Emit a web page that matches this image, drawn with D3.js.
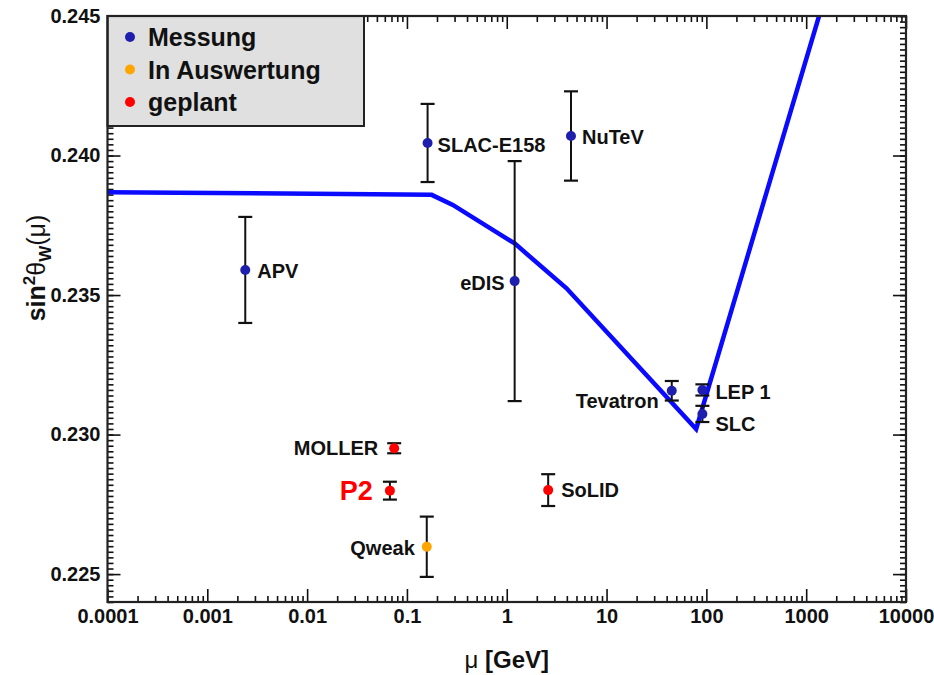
<!DOCTYPE html>
<html>
<head>
<meta charset="utf-8">
<script src="https://cdn.jsdelivr.net/npm/d3@7"></script>
<style>
  body { margin: 0; background: #fff; }
  text { font-family: "Liberation Sans", Arial, sans-serif; }
</style>
</head>
<body>
<svg id="chart" width="934" height="675"></svg>
<script>
// measurements / projections
var names  = ["APV", "SLAC-E158", "NuTeV", "eDIS", "Tevatron", "LEP 1", "SLC", "Qweak", "MOLLER", "P2", "SoLID"];
var mu     = [0.0024, 0.161, 4.4, 1.2, 45, 91.2, 91.2, 0.158, 0.0745, 0.0675, 2.6];
var sin2   = [0.2359, 0.24045, 0.2407, 0.2355, 0.23157, 0.2316, 0.23074, 0.22598, 0.22951, 0.22799, 0.22801];
var err    = [0.0019, 0.0014, 0.0016, 0.0043, 0.00035, 0.0002, 0.00029, 0.00108, 0.00018, 0.00032, 0.00057];
var stage  = ["Messung", "Messung", "Messung", "Messung", "Messung", "Messung", "Messung", "In Auswertung", "geplant", "geplant", "geplant"];

// running of sin^2 theta_W (SM curve)
var curveMu   = [0.0001, 0.0005, 0.177, 0.288, 1.2, 3.97, 79, 1345];
var curveSin2 = [0.23868, 0.23867, 0.23859, 0.23823, 0.23685, 0.23524, 0.2302, 0.245];

var legendLabels = ["Messung", "In Auswertung", "geplant"];
var xTickLabels = ["0.0001", "0.001", "0.01", "0.1", "1", "10", "100", "1000", "10000"];
var yTickLabels = ["0.225", "0.230", "0.235", "0.240", "0.245"];

var colors = {"Messung": "#1f1fae", "In Auswertung": "#ffa500", "geplant": "#ff0000"};

// label placement relative to the point
var labelPos = {
  "APV":       {dx: 12,  dy: 1,  anchor: "start"},
  "SLAC-E158": {dx: 10,  dy: 2,  anchor: "start"},
  "NuTeV":     {dx: 11,  dy: 1,  anchor: "start"},
  "eDIS":      {dx: -10, dy: 2,  anchor: "end"},
  "Tevatron":  {dx: -13, dy: 10, anchor: "end"},
  "LEP 1":     {dx: 13,  dy: 2,  anchor: "start"},
  "SLC":       {dx: 13,  dy: 10, anchor: "start"},
  "Qweak":     {dx: -12, dy: 1,  anchor: "end"},
  "MOLLER":    {dx: -16, dy: 0,  anchor: "end"},
  "P2":        {dx: -17, dy: 0,  anchor: "end"},
  "SoLID":     {dx: 13,  dy: 0,  anchor: "start"}
};

var L = 107.5, R = 906, T = 16, B = 602;

var svg = d3.select("#chart");

var x = d3.scaleLog().domain([1e-4, 1e4]).range([L, R]);
var y = d3.scaleLinear().domain([0.224, 0.245]).range([B, T]);

var xMajor = xTickLabels.map(function(d) { return +d; });
var xMinor = x.ticks().filter(function(d) { return xMajor.indexOf(d) < 0; });
var yMajor = yTickLabels.map(function(d) { return +d; });
var yMinor = d3.range(0, 106).map(function(i) { return 0.224 + i * 0.0002; })
               .filter(function(d) { return d <= 0.2450001; });

function styleAxis(g) {
  g.select(".domain").remove();
  g.selectAll(".tick line").attr("stroke", "#111").attr("stroke-width", 1.6);
  g.selectAll(".tick text")
    .attr("fill", "#111")
    .attr("font-size", 20)
    .attr("font-weight", "bold");
}

// bottom axis
svg.append("g").attr("transform", "translate(0," + B + ")")
  .call(d3.axisBottom(x).tickValues(xMinor).tickSize(-6).tickFormat(""))
  .call(styleAxis);
svg.append("g").attr("transform", "translate(0," + B + ")")
  .call(d3.axisBottom(x).tickValues(xMajor).tickSize(-13).tickPadding(7)
        .tickFormat(function(d, i) { return xTickLabels[i]; }))
  .call(styleAxis);
// top axis
svg.append("g").attr("transform", "translate(0," + T + ")")
  .call(d3.axisTop(x).tickValues(xMinor).tickSize(-6).tickFormat(""))
  .call(styleAxis);
svg.append("g").attr("transform", "translate(0," + T + ")")
  .call(d3.axisTop(x).tickValues(xMajor).tickSize(-13).tickFormat(""))
  .call(styleAxis);
// left axis
svg.append("g").attr("transform", "translate(" + L + ",0)")
  .call(d3.axisLeft(y).tickValues(yMinor).tickSize(-6).tickFormat(""))
  .call(styleAxis);
svg.append("g").attr("transform", "translate(" + L + ",0)")
  .call(d3.axisLeft(y).tickValues(yMajor).tickSize(-13).tickPadding(7)
        .tickFormat(function(d, i) { return yTickLabels[i]; }))
  .call(styleAxis);
// right axis
svg.append("g").attr("transform", "translate(" + R + ",0)")
  .call(d3.axisRight(y).tickValues(yMinor).tickSize(-6).tickFormat(""))
  .call(styleAxis);
svg.append("g").attr("transform", "translate(" + R + ",0)")
  .call(d3.axisRight(y).tickValues(yMajor).tickSize(-13).tickFormat(""))
  .call(styleAxis);

// clip for the curve
svg.append("clipPath").attr("id", "plotClip")
  .append("rect").attr("x", L).attr("y", T).attr("width", R - L).attr("height", B - T);

var line = d3.line()
  .x(function(d, i) { return x(curveMu[i]); })
  .y(function(d, i) { return y(curveSin2[i]); });

svg.append("path")
  .datum(curveMu)
  .attr("clip-path", "url(#plotClip)")
  .attr("fill", "none")
  .attr("stroke", "#0a0aff")
  .attr("stroke-width", 4.5)
  .attr("d", line);

// error bars
var pts = svg.append("g").selectAll("g").data(names).join("g");

pts.append("line")
  .attr("x1", function(d, i) { return x(mu[i]); })
  .attr("x2", function(d, i) { return x(mu[i]); })
  .attr("y1", function(d, i) { return y(sin2[i] + err[i]); })
  .attr("y2", function(d, i) { return y(sin2[i] - err[i]); })
  .attr("stroke", "#111").attr("stroke-width", 2);
[1, -1].forEach(function(s) {
  pts.append("line")
    .attr("x1", function(d, i) { return x(mu[i]) - 7; })
    .attr("x2", function(d, i) { return x(mu[i]) + 7; })
    .attr("y1", function(d, i) { return y(sin2[i] + s * err[i]); })
    .attr("y2", function(d, i) { return y(sin2[i] + s * err[i]); })
    .attr("stroke", "#111").attr("stroke-width", 2.2);
});

pts.append("circle")
  .attr("cx", function(d, i) { return x(mu[i]); })
  .attr("cy", function(d, i) { return y(sin2[i]); })
  .attr("r", 5)
  .attr("fill", function(d, i) { return colors[stage[i]]; });

pts.append("text")
  .attr("x", function(d, i) { return x(mu[i]) + labelPos[d].dx; })
  .attr("y", function(d, i) { return y(sin2[i]) + labelPos[d].dy; })
  .attr("text-anchor", function(d) { return labelPos[d].anchor; })
  .attr("dominant-baseline", "central")
  .attr("font-weight", "bold")
  .attr("font-size", function(d) { return d == "P2" ? 27 : 20; })
  .attr("fill", function(d) { return d == "P2" ? "#ff0000" : "#111"; })
  .text(function(d) { return d; });

// legend
var leg = svg.append("g");
leg.append("rect")
  .attr("x", L).attr("y", T).attr("width", 364 - L).attr("height", 126 - T)
  .attr("fill", "#e0e0e0").attr("stroke", "#222").attr("stroke-width", 2);
var li = leg.selectAll("g.item").data(legendLabels).join("g").attr("class", "item")
  .attr("transform", function(d, i) { return "translate(130," + (37 + i * 32.5) + ")"; });
li.append("circle").attr("r", 5).attr("fill", function(d) { return colors[d]; });
li.append("text")
  .attr("x", 18).attr("dominant-baseline", "central")
  .attr("font-size", 25).attr("font-weight", "bold").attr("fill", "#111")
  .text(function(d) { return d; });

// frame
svg.append("rect")
  .attr("x", L).attr("y", T).attr("width", R - L).attr("height", B - T)
  .attr("fill", "none").attr("stroke", "#222").attr("stroke-width", 2.2);

// axis titles
var xt = svg.append("text")
  .attr("x", (L + R) / 2).attr("y", 668)
  .attr("text-anchor", "middle").attr("font-size", 24).attr("fill", "#111");
xt.append("tspan").text("μ ");
xt.append("tspan").attr("font-weight", "bold").text("[GeV]");

var yt = svg.append("text")
  .attr("transform", "translate(45,268) rotate(-90)")
  .attr("text-anchor", "middle").attr("font-size", 25).attr("fill", "#111");
yt.append("tspan").attr("font-weight", "bold").text("sin");
yt.append("tspan").attr("font-weight", "bold").attr("font-size", 17).attr("dy", -10).text("2");
yt.append("tspan").attr("dy", 10).text("θ");
yt.append("tspan").attr("font-weight", "bold").attr("font-size", 17).attr("dy", 6).text("W");
yt.append("tspan").attr("dy", -6).text("(μ)");
</script>
</body>
</html>
